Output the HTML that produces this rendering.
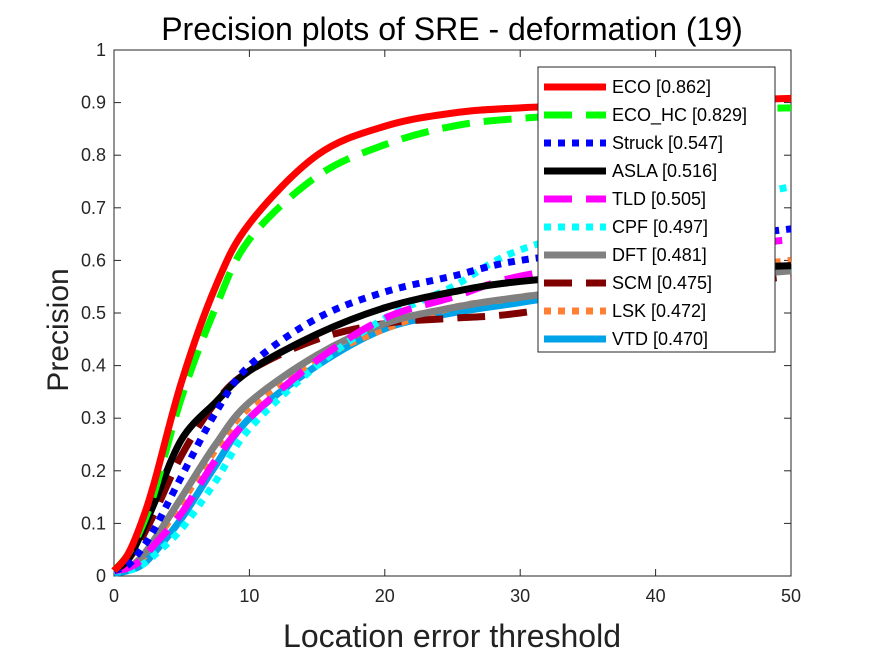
<!DOCTYPE html>
<html><head><meta charset="utf-8"><style>
body{margin:0;background:#fff;width:875px;height:656px;overflow:hidden;font-family:"Liberation Sans",Arial,sans-serif}
</style></head><body>
<svg id="chart" width="875" height="656" xmlns="http://www.w3.org/2000/svg" font-family="Liberation Sans, Arial, sans-serif">
<rect x="0" y="0" width="875" height="656" fill="#fff"/>
<text x="452" y="40" font-size="32" text-anchor="middle" fill="#000">Precision plots of SRE - deformation (19)</text>
<text transform="translate(68,330) rotate(-90)" font-size="30" text-anchor="middle" fill="#222">Precision</text>
<text x="452" y="647" font-size="32" text-anchor="middle" fill="#222">Location error threshold</text>
<g id="axes"></g>
<g id="series"></g>
<g id="legend"></g>
</svg>
<script>
const xs = [0,1,2,3,5,7.5,10,15,20,25,30,40,50];
const names = ["ECO [0.862]","ECO_HC [0.829]","Struck [0.547]","ASLA [0.516]","TLD [0.505]","CPF [0.497]","DFT [0.481]","SCM [0.475]","LSK [0.472]","VTD [0.470]"];
const ecoVals   = [0.01,0.04,0.10,0.18,0.37,0.55,0.67,0.80,0.855,0.88,0.89,0.90,0.908];
const ecohcVals = [0.01,0.04,0.09,0.16,0.34,0.51,0.64,0.76,0.82,0.855,0.87,0.885,0.89];
const struckVals= [0.01,0.02,0.05,0.09,0.19,0.31,0.40,0.49,0.54,0.57,0.60,0.63,0.66];
const aslaVals  = [0.01,0.03,0.08,0.14,0.26,0.33,0.39,0.46,0.51,0.54,0.56,0.58,0.59];
const tldVals   = [0.01,0.015,0.03,0.06,0.12,0.22,0.30,0.41,0.49,0.53,0.57,0.61,0.64];
const cpfVals   = [0.01,0.01,0.02,0.04,0.09,0.18,0.28,0.40,0.49,0.55,0.62,0.69,0.74];
const dftVals   = [0.01,0.015,0.035,0.07,0.15,0.25,0.33,0.42,0.48,0.51,0.53,0.56,0.58];
const scmVals   = [0.01,0.03,0.07,0.12,0.23,0.33,0.39,0.45,0.48,0.49,0.50,0.54,0.57];
const lskVals   = [0.01,0.015,0.03,0.065,0.14,0.24,0.32,0.41,0.47,0.51,0.53,0.57,0.60];
const vtdVals   = [0.005,0.01,0.02,0.045,0.11,0.21,0.30,0.40,0.47,0.50,0.52,0.56,0.585];
const xTicks = [0,10,20,30,40,50];
const yTicks = [0,0.1,0.2,0.3,0.4,0.5,0.6,0.7,0.8,0.9,1];
const series=[ecoVals,ecohcVals,struckVals,aslaVals,tldVals,cpfVals,dftVals,scmVals,lskVals,vtdVals];
const colors=["#ff0000","#00ff00","#0000ff","#000000","#ff00ff","#00ffff","#808080","#800000","#ff8033","#00a2e8"];
const dashes=["","28,14","7,7","","28,14","7,7","","28,14","7,7",""];
const L=114,R=791,T=50,B=576;
const sx=v=>L+(v/50)*(R-L), sy=v=>B-v*(B-T);
const NS="http://www.w3.org/2000/svg";
const ax=document.getElementById('axes');
function mk(tag,attrs,parent){const e=document.createElementNS(NS,tag);for(const k in attrs)e.setAttribute(k,attrs[k]);parent.appendChild(e);return e;}
const frame=mk('rect',{x:L,y:T,width:R-L,height:B-T,fill:'none',stroke:'#262626','stroke-width':1},ax);


xTicks.forEach(t=>{const x=sx(t);
 mk('line',{x1:x,x2:x,y1:B,y2:B-7,stroke:'#262626'},ax);mk('line',{x1:x,x2:x,y1:T,y2:T+7,stroke:'#262626'},ax);
 const tx=mk('text',{x:x,y:B+26,'font-size':18,'text-anchor':'middle',fill:'#262626'},ax);tx.textContent=t;
 
 });
yTicks.forEach(t=>{const y=sy(t);
 mk('line',{x1:L,x2:L+7,y1:y,y2:y,stroke:'#262626'},ax);mk('line',{x1:R,x2:R-7,y1:y,y2:y,stroke:'#262626'},ax);
 const tx=mk('text',{x:L-8,y:y+6,'font-size':18,'text-anchor':'end',fill:'#262626'},ax);tx.textContent=String(t);
 
 });
function pathFor(vals){const p=xs.map((x,i)=>[sx(x),sy(vals[i])]);let d=`M${p[0][0]},${p[0][1]}`;
 for(let i=0;i<p.length-1;i++){const p0=p[Math.max(0,i-1)],p1=p[i],p2=p[i+1],p3=p[Math.min(p.length-1,i+2)];
  const c1=[p1[0]+(p2[0]-p0[0])/6,p1[1]+(p2[1]-p0[1])/6],c2=[p2[0]-(p3[0]-p1[0])/6,p2[1]-(p3[1]-p1[1])/6];
  d+=` C${c1[0]},${c1[1]} ${c2[0]},${c2[1]} ${p2[0]},${p2[1]}`;}return d;}
const sg=document.getElementById('series');
for(let i=series.length-1;i>=0;i--){
 const p=mk('path',{d:pathFor(series[i]),fill:'none',stroke:colors[i],'stroke-width':7,'stroke-dasharray':dashes[i],'stroke-linecap':'butt'},sg);
 
 
}
const lg=document.getElementById('legend');
const box=mk('rect',{x:538,y:67,width:237,height:285,fill:'#fff',stroke:'#262626','stroke-width':1},lg);


names.forEach((n,i)=>{const y=87+i*28;
 const ln=mk('line',{x1:544,x2:606,y1:y,y2:y,stroke:colors[i],'stroke-width':7,'stroke-dasharray':dashes[i]},lg);
 
 
 const t=mk('text',{x:612,y:y+6,'font-size':18,fill:'#000'},lg);t.textContent=n;
 
 });
</script>
</body></html>
